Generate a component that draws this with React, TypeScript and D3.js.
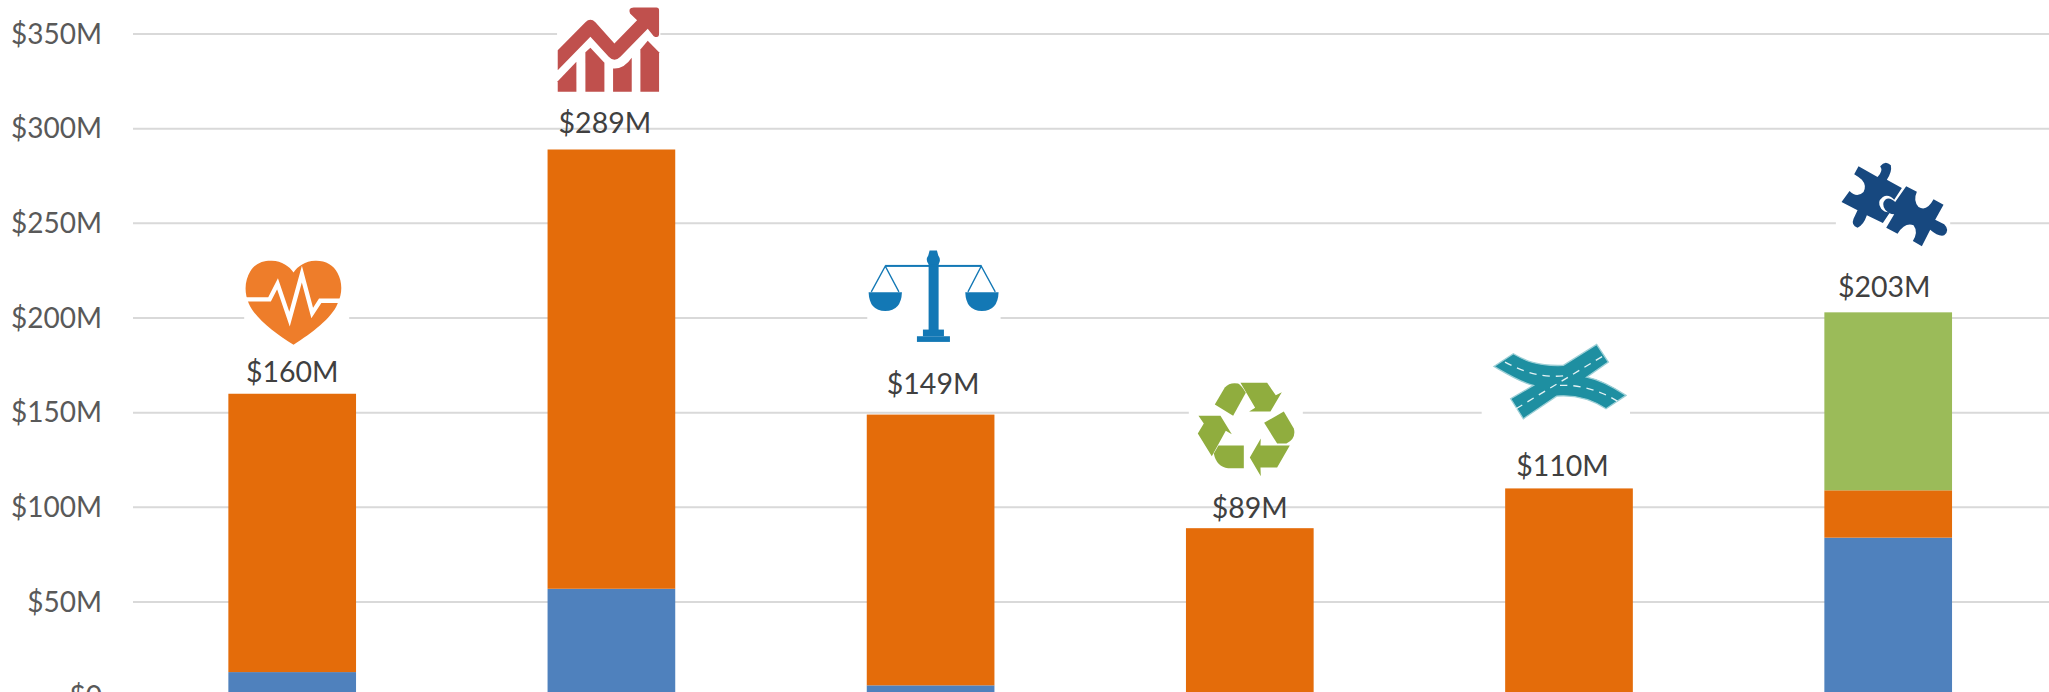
import React from "react";
import * as d3 from "d3";

const categories = ["Health", "Growth", "Justice", "Environment", "Transport", "Other"];
const blueValues = [13, 57, 6, 0, 0, 84];
const orangeValues = [147, 232, 143, 89, 110, 25];
const greenValues = [0, 0, 0, 0, 0, 94];
const totalLabels = ["$160M", "$289M", "$149M", "$89M", "$110M", "$203M"];
const tickValues = [0, 50, 100, 150, 200, 250, 300, 350];
const seriesKeys = ["blue", "orange", "green"];
const seriesColors = ["#4F81BD", "#E46C0A", "#9BBB59"];

const W = 2049;
const H = 692;
const FONT = "Lato, 'Open Sans', sans-serif";

const x = d3.scaleBand<string>().domain(categories).range([132.6, 2047.8]).paddingInner(0.6).paddingOuter(0.3);
const y = d3.scaleLinear().domain([0, 350]).range([696.7, 34]);

const rows = categories.map((c, i) => ({ c, blue: blueValues[i], orange: orangeValues[i], green: greenValues[i] }));
const stacked = d3.stack<any>().keys(seriesKeys)(rows);
const totals = categories.map((_, i) => blueValues[i] + orangeValues[i] + greenValues[i]);

const labelGaps = [12, 16, 21, 10, 12, 15];
const labelShifts = [0, -6.5, 2.5, 0, -6.5, -4];

function Heart() {
  return (
    <g>
      <rect x={132} y={75} width={315} height={290} fill="#fff" />
      <path
        d="M280 345 C225 310 165 265 146 222 C130 185 135 150 150 125 C165 100 190 92 215 93 C245 94 268 110 280 128 C292 110 315 94 345 93 C375 92 400 105 412 130 C426 155 428 190 412 222 C395 265 335 310 280 345 Z"
        fill="#EE7D2A"
      />
      <path
        d="M130 209 L208 209 L232 162 L268 268 L305 133 L336 250 L360 213 L430 213"
        fill="none"
        stroke="#fff"
        strokeWidth={13}
      />
    </g>
  );
}

function Trend() {
  const c = "#C0504D";
  return (
    <g fill={c}>
      <rect x={80} y={20} width={310} height={262} fill="#fff" />
      <path d="M82 152 L165 68 Q180 54 195 68 L252 132 L320 62 L299 42 Q292 24 310 24 L378 24 Q386 24 386 32 L386 102 Q386 118 370 110 L352 88 L270 172 Q252 190 235 172 L180 112 L82 212 Z" />
      <path d="M82 277 L82 245 L138 187 L138 277 Z" />
      <path d="M165 277 L165 158 L180 145 L222 190 L222 277 Z" />
      <path d="M248 277 L248 207 Q280 210 304 175 L304 277 Z" />
      <path d="M330 277 L330 150 L352 124 L386 158 L386 277 Z" />
    </g>
  );
}

function Scales() {
  const c = "#1378B5";
  return (
    <g>
      <rect x={53} y={25} width={400} height={290} fill="#fff" />
      <g fill={c}>
        <rect x={237} y={60} width={30} height={215} />
        <path d="M240 33 L262 33 L266 48 Q276 62 266 75 L238 75 Q226 62 236 48 Z" />
        <rect x={107} y={76} width={288} height={6} />
        <path d="M57 158 L157 158 Q155 214 107 214 Q59 214 57 158 Z" />
        <path d="M347 158 L447 158 Q445 214 397 214 Q349 214 347 158 Z" />
        <rect x={220} y={270} width={63} height={20} />
        <rect x={202} y={290} width={99} height={17} />
      </g>
      <path d="M65 157 L107 80 L148 157 M355 157 L395 80 L437 157" fill="none" stroke={c} strokeWidth={4} />
    </g>
  );
}

function Recycle() {
  return (
    <g>
      <rect x={57} y={28} width={342} height={295} fill="#fff" />
      <g fill="#90AD3E">
        <path d="M135 103 L165 52 Q180 35 205 40 Q215 45 228 68 L190 137 Z" />
        <path d="M212 38 L292 38 L318 75 L336 66 L302 124 L238 124 L256 113 Z" />
        <path d="M283 158 L342 124 L372 175 Q380 205 350 220 L322 220 Z" />
        <path d="M360 226 L322 292 L272 292 L273 318 L240 262 L273 205 L272 226 Z" />
        <path d="M222 226 L222 294 L175 294 Q140 290 132 250 L146 226 Z" />
        <path d="M126 258 L84 190 L102 160 L86 137 L152 137 L186 192 L168 182 Z" />
      </g>
    </g>
  );
}

function Road() {
  return (
    <g>
      <rect x={5} y={30} width={445} height={245} fill="#fff" />
      <path
        d="M100 70 C135 90 170 108 250 105 L350 42 L385 95 L320 140 C360 148 400 170 438 195 L378 235 C340 210 290 192 230 197 L130 265 L92 205 L160 165 C120 155 80 130 42 108 Z"
        fill="#1E8FA1"
        stroke="#9CCFD6"
        strokeWidth={4}
      />
      <g fill="none" stroke="#E4F2F4" strokeWidth={4} strokeDasharray="22 18">
        <path d="M75 95 C130 125 190 145 262 135" />
        <path d="M240 165 C300 162 360 180 412 212" />
        <path d="M108 235 L372 75" />
      </g>
    </g>
  );
}

function Puzzle() {
  return (
    <g>
      <rect x={47} y={25} width={343} height={270} fill="#fff" />
      <g fill="#17487F">
        <path d="M115 48 L172 80 Q190 62 180 48 Q195 28 212 45 Q216 65 200 88 L245 113 L222 148 Q205 130 188 140 Q168 155 183 175 Q195 188 210 185 L188 218 L140 195 Q130 225 112 232 Q92 225 100 205 L112 180 L64 155 L88 122 Q110 145 130 125 Q140 105 125 88 Q112 78 102 72 Z" />
        <path d="M258 108 L290 124 Q278 150 295 170 Q320 185 340 147 L370 163 L345 208 L372 222 Q390 240 372 255 Q355 260 330 238 L305 288 L278 272 Q295 245 280 225 Q255 215 232 250 L198 232 L222 192 Q205 190 195 178 Q183 160 195 148 Q208 138 225 155 Z" />
      </g>
    </g>
  );
}

const icons = [
  { Icon: Heart, dx: -92, dy: -164 },
  { Icon: Trend, dx: -81, dy: -150 },
  { Icon: Scales, dx: -81, dy: -175 },
  { Icon: Recycle, dx: -80, dy: -158 },
  { Icon: Road, dx: -89, dy: -158 },
  { Icon: Puzzle, dx: -68, dy: -162 },
];

export default function App() {
  return (
    <svg
      width={W}
      height={H}
      viewBox={`0 0 ${W} ${H}`}
      style={{ position: "absolute", left: 0, top: 0, display: "block", background: "#fff" }}
    >
      {tickValues.map((t) => (
        <g key={t}>
          <line x1={133} x2={2049} y1={y(t)} y2={y(t)} stroke="#D9D9D9" strokeWidth={2} />
          <text x={102} y={y(t) + 9.5} textAnchor="end" fontFamily={FONT} fontSize={28} fill="#595959">
            {t === 0 ? "$0" : `$${t}M`}
          </text>
        </g>
      ))}
      {stacked.map((s, si) =>
        s.map((d, i) =>
          d[1] > d[0] ? (
            <rect
              key={`${si}-${i}`}
              x={x(categories[i])}
              width={x.bandwidth()}
              y={y(d[1])}
              height={y(d[0]) - y(d[1])}
              fill={seriesColors[si]}
            />
          ) : null
        )
      )}
      {icons.map(({ Icon, dx, dy }, i) => {
        const cx = x(categories[i])! + x.bandwidth() / 2;
        return (
          <g key={i} transform={`translate(${cx + dx},${y(totals[i]) + dy}) scale(${1 / 3})`}>
            <Icon />
          </g>
        );
      })}
      {totalLabels.map((l, i) => (
        <text
          key={l}
          x={x(categories[i])! + x.bandwidth() / 2 + labelShifts[i]}
          y={y(totals[i]) - labelGaps[i]}
          textAnchor="middle"
          fontFamily={FONT}
          fontSize={28.5}
          fill="#404040"
        >
          {l}
        </text>
      ))}
    </svg>
  );
}
